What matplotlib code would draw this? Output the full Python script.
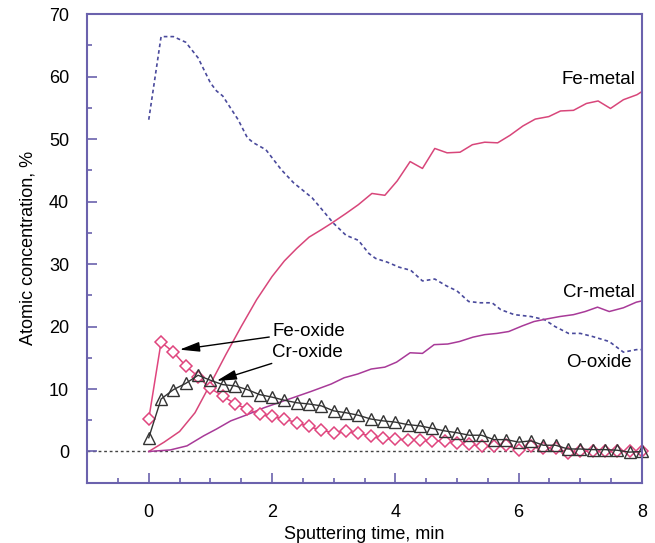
import matplotlib
matplotlib.use("Agg")
import matplotlib.pyplot as plt
import numpy as np

plt.rcParams['font.family'] = ['Liberation Sans', 'DejaVu Sans']

# O-oxide (dotted)
o_x = [0, 0.2, 0.4, 0.6, 0.8, 1.0, 1.1, 1.2, 1.45, 1.6, 1.7, 1.9, 2.15, 2.35, 2.65,
       3.0, 3.2, 3.4, 3.57, 3.68, 3.87, 4.06, 4.25, 4.44, 4.64, 4.83, 5.0, 5.19, 5.38,
       5.57, 5.71, 5.93, 6.2, 6.42, 6.59, 6.81, 7.0, 7.2, 7.47, 7.7, 7.91, 8.0]
o_y = [53.1, 66.4, 66.4, 65.5, 63.0, 59.0, 57.7, 56.9, 53.1, 50.2, 49.4, 48.3, 45.1, 43.0, 40.6,
       36.5, 34.6, 33.8, 31.7, 30.9, 30.3, 29.5, 29.0, 27.3, 27.6, 26.5, 25.7, 24.0, 23.8,
       23.8, 22.7, 21.9, 21.6, 21.1, 20.0, 18.9, 18.9, 18.4, 17.6, 15.9, 16.3, 16.3]

# Fe-metal
fem_x = [0, 0.25, 0.5, 0.75, 1.0, 1.25, 1.5, 1.75, 2.0, 2.2, 2.4, 2.6, 2.8, 2.96, 3.2,
         3.4, 3.62, 3.83, 4.03, 4.24, 4.44, 4.64, 4.84, 5.05, 5.25, 5.45, 5.66, 5.86,
         6.07, 6.27, 6.49, 6.68, 6.89, 7.1, 7.29, 7.49, 7.7, 7.92, 8.0]
fem_y = [0, 1.5, 3.2, 6.2, 10.8, 15.5, 20.0, 24.3, 28.0, 30.5, 32.5, 34.3, 35.5, 36.5, 38.1,
         39.5, 41.3, 41.0, 43.3, 46.4, 45.3, 48.5, 47.8, 47.9, 49.1, 49.5, 49.4, 50.6,
         52.1, 53.2, 53.6, 54.5, 54.6, 55.7, 56.1, 54.9, 56.3, 57.1, 57.6]

# Cr-metal
crm_x = [0, 0.35, 0.62, 0.89, 1.1, 1.33, 1.6, 1.87, 2.25, 2.63, 2.96, 3.17, 3.39, 3.61,
         3.83, 4.02, 4.24, 4.44, 4.63, 4.85, 5.04, 5.26, 5.45, 5.65, 5.84, 6.06, 6.25,
         6.45, 6.67, 6.89, 7.08, 7.28, 7.47, 7.7, 7.91, 8.0]
crm_y = [0, 0.25, 0.9, 2.5, 3.6, 4.9, 5.9, 7.0, 8.3, 9.6, 10.8, 11.8, 12.4, 13.2,
         13.5, 14.3, 15.8, 15.7, 17.1, 17.2, 17.6, 18.3, 18.7, 18.9, 19.2, 20.1, 20.8,
         21.2, 21.6, 21.9, 22.4, 23.1, 22.4, 23.0, 23.9, 24.1]

# oxides, sampled every 0.2 min
t_ox = [round(0.2 * i, 1) for i in range(41)]
feox_y = [5.2, 17.5, 15.9, 13.7, 12.0, 10.1, 8.9, 7.6, 6.8, 6.0, 5.6, 5.2, 4.6, 4.0, 3.4,
          3.0, 3.25, 2.9, 2.5, 2.1, 2.0, 1.85, 1.85, 1.7, 1.7, 1.35, 1.2, 0.8, 0.8, 1.0,
          0.25, 0.8, 0.6, 0.6, -0.2, 0.1, 0.0, 0.1, 0.1, 0.0, 0.1]
crox_y = [2.2, 8.4, 9.9, 10.9, 12.2, 11.4, 10.7, 10.5, 9.9, 9.1, 8.7, 8.2, 7.8, 7.6, 7.3,
          6.5, 6.2, 5.8, 5.2, 4.9, 4.7, 4.3, 4.1, 3.7, 3.3, 3.0, 2.6, 2.6, 1.9, 1.9,
          1.5, 1.7, 1.0, 1.0, 0.4, 0.4, 0.3, 0.3, 0.2, -0.1, 0.0]

spine_col = '#6b62ad'

fig = plt.figure(figsize=(6.55, 5.43), dpi=100)
ax = fig.add_axes([0.133, 0.111, 0.847, 0.863])

ax.axhline(0, color='#444444', lw=1.0, ls=(0, (2, 2)), zorder=1)
ax.plot(o_x, o_y, color='#4a4a9c', lw=1.2, ls=(0, (2.2, 1.8)))
ax.plot(fem_x, fem_y, color='#d8467a', lw=1.1)
ax.plot(crm_x, crm_y, color='#a83a98', lw=1.1)
ax.plot(t_ox, feox_y, color='#e0457e', lw=1.1, marker='D', ms=6, mfc='white',
        mec='#e0457e', mew=1.1, clip_on=False)
ax.plot(t_ox, crox_y, color='#333333', lw=1.0, marker='^', ms=8, mfc='none',
        mec='#333333', mew=1.0, clip_on=False)

ax.set_xlim(-1, 8)
ax.set_ylim(-5, 70)
ax.set_xticks([0, 2, 4, 6, 8])
ax.set_xticks(np.arange(-0.5, 8, 0.5), minor=True)
ax.set_yticks(range(0, 71, 10))
ax.set_yticks(range(5, 70, 10), minor=True)
ax.tick_params(which='both', direction='in', colors=spine_col, labelcolor='black',
               labelsize=13)
ax.tick_params(which='major', length=7, width=1.2)
ax.tick_params(which='minor', length=3.6, width=1.2)
ax.tick_params(axis='x', pad=15)
ax.tick_params(axis='y', pad=13)
for s in ax.spines.values():
    s.set_color(spine_col)
    s.set_linewidth(1.5)

ax.set_xlabel('Sputtering time, min', fontsize=13, labelpad=4)
ax.set_ylabel('Atomic concentration, %', fontsize=13, labelpad=9)

ax.text(7.3, 59.6, 'Fe-metal', fontsize=13.5, ha='center', va='center')
ax.text(7.3, 25.5, 'Cr-metal', fontsize=13.5, ha='center', va='center')
ax.text(7.3, 14.3, 'O-oxide', fontsize=13.5, ha='center', va='center')
arrow = dict(arrowstyle='-|>,head_length=0.9,head_width=0.22', color='black', lw=1.0,
             shrinkA=0, shrinkB=0)
ax.annotate('Fe-oxide', xy=(0.5, 16.3), xytext=(2.0, 19.2), fontsize=13.5,
            ha='left', va='center', arrowprops=arrow)
ax.annotate('Cr-oxide', xy=(1.1, 11.3), xytext=(2.0, 15.9), fontsize=13.5,
            ha='left', va='center', arrowprops=arrow)

fig.savefig('out.png', dpi=100)
